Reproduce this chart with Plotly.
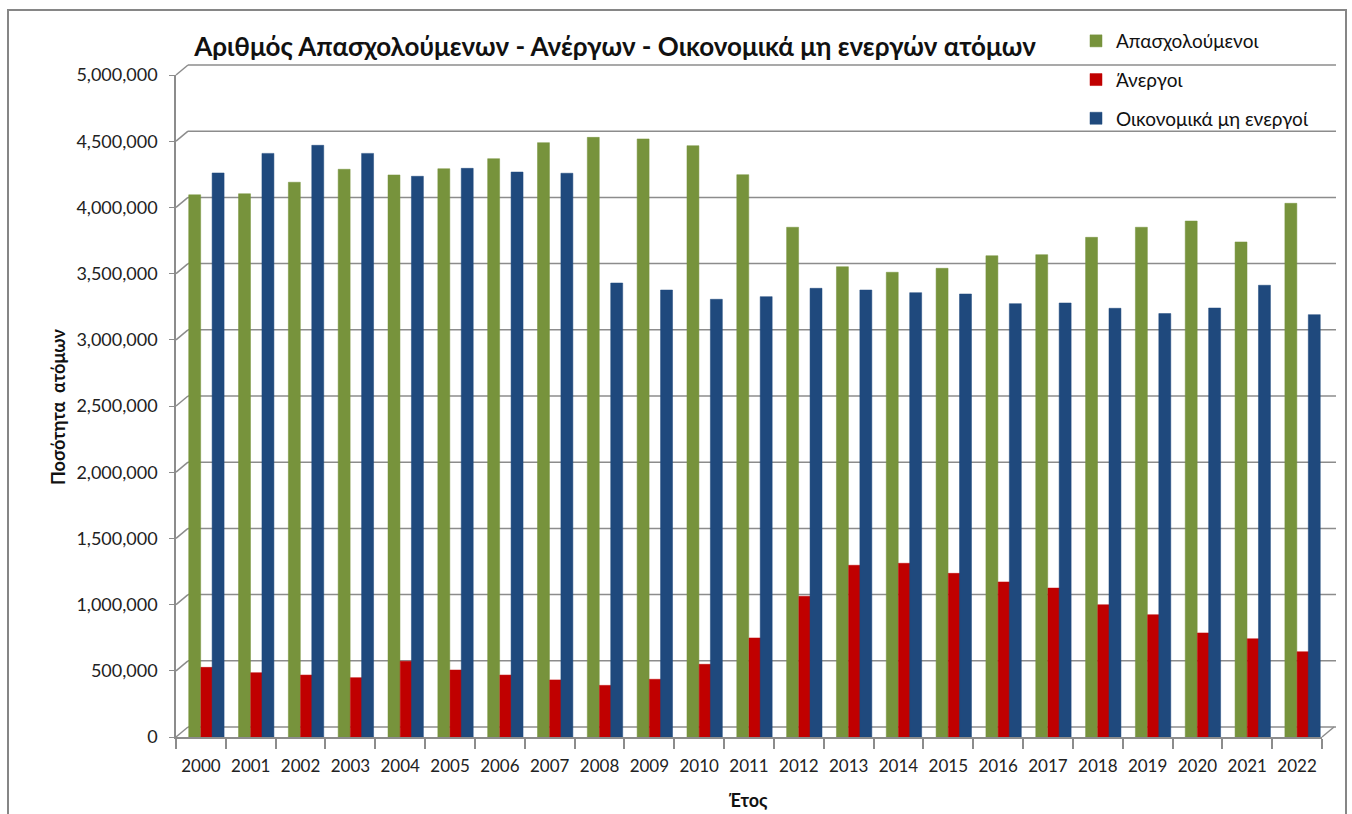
import plotly.graph_objects as go

years = [str(y) for y in range(2000, 2023)]
employed = [4095000, 4103000, 4190000, 4288000, 4245000, 4292000, 4368000, 4489000,
            4529000, 4517000, 4466000, 4247000, 3850000, 3552000, 3510000, 3540000,
            3635000, 3643000, 3774000, 3850000, 3897000, 3739000, 4031000]
unemployed = [526000, 486000, 468000, 448000, 572000, 506000, 468000, 431000,
              390000, 436000, 549000, 748000, 1063000, 1297000, 1312000, 1236000,
              1171000, 1125000, 999000, 924000, 786000, 742000, 644000]
inactive = [4260000, 4408000, 4469000, 4408000, 4235000, 4295000, 4267000, 4258000,
            3429000, 3376000, 3306000, 3326000, 3389000, 3376000, 3356000, 3346000,
            3273000, 3278000, 3238000, 3198000, 3240000, 3412000, 3190000]
series_names = ["Απασχολούμενοι", "Άνεργοι", "Οικονομικά μη ενεργοί"]
series_colors = ["#77933C", "#C00000", "#1F497D"]
tick_values = list(range(0, 5000001, 500000))

W, H = 1352, 814
L, R, T, B = 176, 1322, 75, 737
YMAX = 5000000
FONT = "Lato, 'Open Sans', sans-serif"
GRID = "#8C8C8C"


def px_x(p):
    return (p - L) / (R - L)


def px_y(p):
    return (B - p) / (B - T)


fig = go.Figure()
offsets = [-0.245, 0.0, 0.225]
for name, vals, col, off in zip(series_names, [employed, unemployed, inactive], series_colors, offsets):
    fig.add_trace(go.Bar(
        x=years, y=vals, name=name, legendgroup=name,
        marker=dict(color=col, line=dict(color=col, width=0.5)),
        width=0.24, offset=off,
    ))

shapes = []
dx, dy = 12, 10  # 3D depth offset in pixels
for v in tick_values:
    yp = px_y(B - (B - T) * v / YMAX)
    shapes.append(dict(type="line", xref="paper", yref="paper",
                       x0=px_x(L + dx), x1=px_x(R + dx + 2), y0=yp + dy / (B - T), y1=yp + dy / (B - T),
                       line=dict(color=GRID, width=1.5), layer="below"))
    shapes.append(dict(type="line", xref="paper", yref="paper",
                       x0=0, x1=px_x(L + dx), y0=yp, y1=yp + dy / (B - T),
                       line=dict(color=GRID, width=1.5), layer="below"))
shapes.append(dict(type="line", xref="paper", yref="paper",
                   x0=1, x1=px_x(R + dx), y0=0, y1=dy / (B - T),
                   line=dict(color=GRID, width=1.5), layer="below"))
shapes.append(dict(type="rect", xref="paper", yref="paper",
                   x0=px_x(8), x1=px_x(1346), y0=px_y(10), y1=px_y(830),
                   line=dict(color="#868686", width=2), fillcolor="rgba(0,0,0,0)", layer="below"))

fig.update_layout(
    width=W, height=H, autosize=False,
    margin=dict(l=L, r=W - R, t=T, b=H - B),
    paper_bgcolor="white", plot_bgcolor="rgba(0,0,0,0)",
    barmode="overlay",
    font=dict(family=FONT, color="#222222"),
    title=dict(text="<b>Αριθμός Απασχολούμενων - Ανέργων - Οικονομικά μη ενεργών ατόμων</b>",
               xref="container", yref="container", x=615 / W, y=1 - 47 / H,
               xanchor="center", yanchor="middle",
               font=dict(family=FONT, size=26, color="#111111")),
    legend=dict(x=px_x(1076), y=px_y(22), xanchor="left", yanchor="top",
                bgcolor="rgba(0,0,0,0)", font=dict(family=FONT, size=19, color="#111111"),
                tracegroupgap=11, itemwidth=30),
    xaxis=dict(type="category", range=[-0.5, 22.5], showline=True, linecolor=GRID, linewidth=1.5,
               ticks="outside", ticklen=10, tickcolor=GRID, tickwidth=1.5, tickson="boundaries",
               showgrid=False, ticklabelstandoff=13,
               tickfont=dict(family=FONT, size=17, color="#222222")),
    yaxis=dict(range=[0, YMAX], tickvals=tick_values, tickformat=",", showline=True,
               linecolor=GRID, linewidth=1.5, ticks="outside", ticklen=5, tickcolor=GRID,
               showgrid=False, zeroline=False, ticklabelstandoff=8,
               tickfont=dict(family=FONT, size=18, color="#222222")),
    shapes=shapes,
    annotations=[
        dict(text="<b>Ποσότητα  ατόμων</b>", xref="paper", yref="paper",
             x=px_x(58), y=px_y(407), textangle=-90, showarrow=False,
             xanchor="center", yanchor="middle", font=dict(family=FONT, size=18, color="#111111")),
        dict(text="<b>Έτος</b>", xref="paper", yref="paper",
             x=px_x(748), y=px_y(800), showarrow=False,
             xanchor="center", yanchor="middle", font=dict(family=FONT, size=18, color="#111111")),
    ],
)

fig.write_html("out.html", config={"displayModeBar": False},
               post_script="document.body.style.margin='0';document.body.style.overflow='hidden';")
